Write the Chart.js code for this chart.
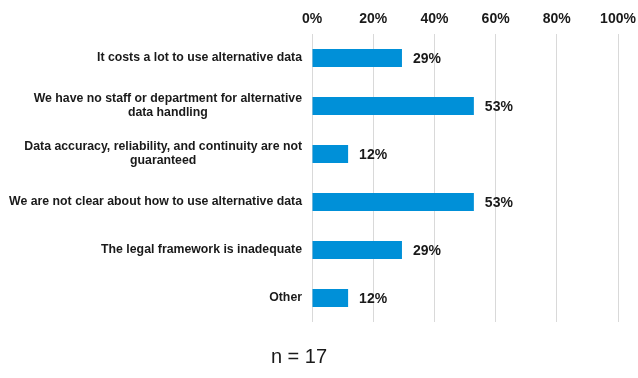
<!DOCTYPE html>
<html>
<head>
<meta charset="utf-8">
<script src="https://cdn.jsdelivr.net/npm/chart.js@4"></script>
<style>
    html, body { margin: 0; padding: 0; background: #fff; }
    #wrap { width: 638px; height: 378px; }
</style>
</head>
<body>
<div id="wrap"><canvas id="barChart" width="638" height="378"></canvas></div>
<script>
const categories = [
    ['It costs a lot to use alternative data'],
    ['We have no staff or department for alternative', 'data handling'],
    ['Data accuracy, reliability, and continuity are not', 'guaranteed'],
    ['We are not clear about how to use alternative data'],
    ['The legal framework is inadequate'],
    ['Other']
];
const shares = [29.4, 52.9, 11.8, 52.9, 29.4, 11.8];
const tickValues = [0, 20, 40, 60, 80, 100];
const sampleNote = 'n = 17';

const FONT = '"Liberation Sans", Arial, sans-serif';

// category labels: lines centred on each other, block right-aligned next to the axis
const categoryLabels = {
    id: 'categoryLabels',
    afterDraw(chart) {
        const ctx = chart.ctx;
        const y = chart.scales.y;
        const right = chart.chartArea.left - 10;
        const lineH = 14;
        ctx.save();
        ctx.font = 'bold 12.3px ' + FONT;
        ctx.fillStyle = '#1a1a1a';
        ctx.textAlign = 'center';
        ctx.textBaseline = 'middle';
        categories.forEach((lines, i) => {
            const cy = y.getPixelForValue(i);
            const w = Math.max(...lines.map(l => ctx.measureText(l).width));
            const cx = right - w / 2;
            const top = cy - (lines.length - 1) * lineH / 2;
            lines.forEach((l, k) => ctx.fillText(l, cx, top + k * lineH));
        });
        ctx.restore();
    }
};

// value labels at bar ends, plus the sample size note
const valueLabels = {
    id: 'valueLabels',
    afterDatasetsDraw(chart) {
        const ctx = chart.ctx;
        const meta = chart.getDatasetMeta(0);
        ctx.save();
        ctx.font = 'bold 14px ' + FONT;
        ctx.fillStyle = '#1a1a1a';
        ctx.textAlign = 'left';
        ctx.textBaseline = 'middle';
        meta.data.forEach((bar, i) => {
            ctx.fillText(Math.round(shares[i]) + '%', bar.x + 11, bar.y + 1);
        });
        ctx.font = '20px ' + FONT;
        ctx.textAlign = 'center';
        ctx.fillText(sampleNote, 299, 357);
        ctx.restore();
    }
};

new Chart(document.getElementById('barChart'), {
    type: 'bar',
    data: {
        labels: categories.map(c => c.join(' ')),
        datasets: [{
            data: shares,
            backgroundColor: '#0090d8',
            borderWidth: 0,
            barPercentage: 0.37,
            categoryPercentage: 1
        }]
    },
    options: {
        indexAxis: 'y',
        responsive: false,
        animation: false,
        layout: { padding: { left: 312, right: 20, top: 4, bottom: 56 } },
        plugins: {
            legend: { display: false },
            tooltip: { enabled: false }
        },
        scales: {
            x: {
                position: 'top',
                min: 0,
                max: 100,
                afterBuildTicks(scale) {
                    scale.ticks = tickValues.map(v => ({ value: v }));
                },
                afterFit(scale) {
                    scale.paddingLeft = 0;
                    scale.paddingRight = 0;
                },
                grid: { color: '#d9d9d9', lineWidth: 1, drawTicks: false },
                border: { display: false },
                ticks: {
                    padding: 6.6,
                    color: '#1a1a1a',
                    font: { family: FONT, size: 14, weight: 'bold' },
                    callback: v => v + '%'
                }
            },
            y: {
                display: false
            }
        }
    },
    plugins: [categoryLabels, valueLabels]
});
</script>
</body>
</html>
